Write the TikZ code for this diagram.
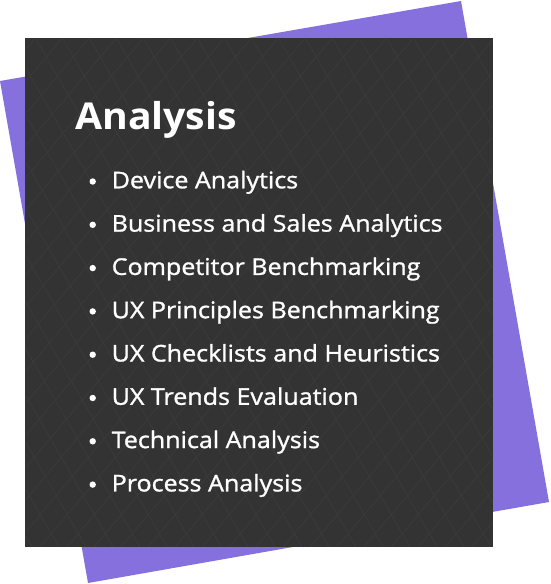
\documentclass[tikz,border=0pt]{standalone}
\usepackage{fontspec}
\setmainfont{Open Sans}[FakeStretch=1.09, FakeBold=1.2]
\newfontfamily\headfont{Open Sans}[FakeStretch=1.06]
\definecolor{panel}{HTML}{333333}
\definecolor{hatch}{HTML}{3B3B3B}
\definecolor{backcard}{HTML}{8570DE}

\begin{document}
\begin{tikzpicture}[x=1pt,y=-1pt,
    item/.style={anchor=base west, inner sep=0, text=white, font=\fontsize{23}{26}\selectfont},
    dot/.style={circle, fill=white, inner sep=0, minimum size=6.4pt}]
      \def\rowgap{43.3}

      \useasboundingbox (0,0) rectangle (550,584);
      \fill[backcard] (0,81) -- (461,1) -- (549,502) -- (88,583) -- cycle;
      \fill[panel] (25,38) rectangle (493,547);

      % faint cross hatching on the panel
      \begin{scope}
        \clip (26,39) rectangle (492,546);
        \foreach \k in {-26,...,18}
          \draw[hatch, line width=0.7pt] (25+\k*27,20) -- ++(360,624);
        \foreach \k in {-20,...,18}
          \draw[hatch, line width=0.7pt] (25+\k*27,565) -- ++(470,-560);
      \end{scope}

      \node[anchor=base west, inner sep=0, text=white, font=\headfont\bfseries\fontsize{37}{40}\selectfont] (title) at (75,129.3) {Analysis};

      \foreach \txt [count=\i] in {Device Analytics, Business and Sales Analytics, Competitor Benchmarking,
          UX Principles Benchmarking, UX Checklists and Heuristics, UX Trends Evaluation,
          Technical Analysis, Process Analysis} {
        \pgfmathsetmacro\by{188.3+(\i-1)*\rowgap}
        \node[item] (item\i) at (111.5,\by) {\txt};
        \node[dot] (dot\i) at (92.7,\by-6.8) {};
      }

    \end{tikzpicture}
\end{document}
